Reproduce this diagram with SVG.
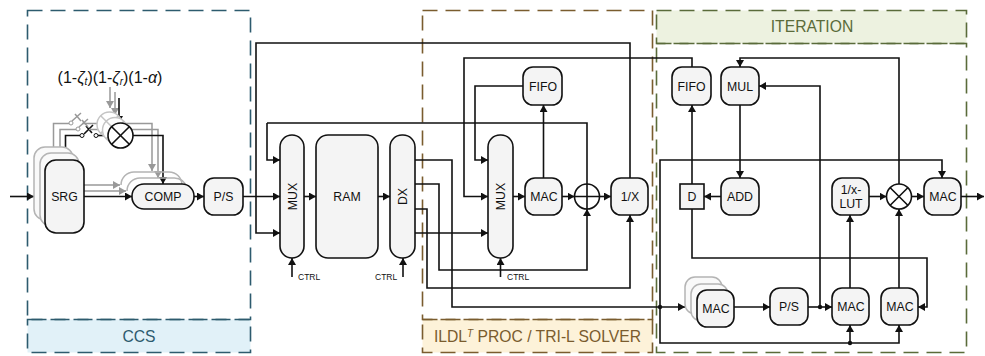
<svg xmlns="http://www.w3.org/2000/svg" width="985" height="356" viewBox="0 0 985 356">
<style>
text{font-family:"Liberation Sans",Arial,sans-serif;fill:#111;text-anchor:middle}
.n{fill:#f4f4f4;stroke:#111;stroke-width:1.6}
.g{fill:#f9f9f9;stroke:#b4b4b4;stroke-width:1.5}
.o{fill:none;stroke:#b4b4b4;stroke-width:1.5}
.t{font-size:12.3px}
.c{font-size:8.5px;text-anchor:start}
.w{fill:none;stroke:#111;stroke-width:1.6}
.a{fill:none;stroke:#111;stroke-width:1.6;marker-end:url(#ah)}
.y{fill:none;stroke:#999;stroke-width:1.5}
.ya{fill:none;stroke:#999;stroke-width:1.5;marker-end:url(#gh)}
.x{fill:#fff;stroke:#111;stroke-width:1.6}
.xg{fill:#fff;stroke:#c4c4c4;stroke-width:1.5}
.lg{fill:none;stroke:#c4c4c4;stroke-width:1.5}
.p{fill:none;stroke-width:1.6;stroke-dasharray:15 8}
.l{stroke-width:1.6;stroke-dasharray:15 8}
.h{font-size:15.700px}
</style>
<defs>
<marker id="ah" markerUnits="userSpaceOnUse" markerWidth="8" markerHeight="8" refX="7" refY="4" orient="auto"><path d="M0,0L7,4L0,8Z" fill="#111"/></marker>
<marker id="gh" markerUnits="userSpaceOnUse" markerWidth="8" markerHeight="8" refX="7" refY="4" orient="auto"><path d="M0,0L7,4L0,8Z" fill="#999"/></marker>
</defs>
<g id="panel-ccs">
<rect class="l" x="27.500" y="319.500" width="223" height="33" fill="#e1f1f8" stroke="#2d5b6e"/>
<rect class="p" x="27.500" y="10.500" width="223" height="309" stroke="#2d5b6e"/>
<text class="h" x="139" y="341.500" style="fill:#2d5b6e">CCS</text>
</g>
<g id="panel-ildl">
<rect class="l" x="422.500" y="319.500" width="230" height="33" fill="#fdf2d9" stroke="#7a5c2e"/>
<rect class="p" x="422.500" y="10.500" width="230" height="309" stroke="#7a5c2e"/>
<text class="h" x="537.500" y="341.500" style="fill:#7a5c2e">ILDL<tspan dy="-5" font-size="10" font-style="italic">T</tspan><tspan dy="5"> PROC / TRI-L SOLVER</tspan></text>
</g>
<g id="panel-iter">
<rect class="l" x="656.500" y="10.500" width="310" height="33" fill="#edf2e0" stroke="#5a6b3a"/>
<rect class="p" x="656.500" y="43.500" width="310" height="309" stroke="#5a6b3a"/>
<text class="h" x="812" y="31.500" style="fill:#5a6b3a">ITERATION</text>
</g>
<g id="connectors">
<path class="a" d="M10,196.500H34"/>
<path class="ya" d="M84,185H120"/>
<path class="ya" d="M84,191H126"/>
<path class="a" d="M84,196.500H132"/>
<path class="y" d="M53.500,147V123.500H69"/>
<path class="y" d="M60,153V129.500H76"/>
<path class="w" d="M65.500,160V135.500H80"/>
<path class="w" d="M84,134L93,125M86,126L92,133"/>
<path class="y" d="M72,121L81,113M75,114L81,121"/>
<path class="y" d="M79,127L88,119M82,120L88,127"/>
<path class="y" d="M82,123.500H97M89,129.500H102"/>
<path class="w" d="M98,135.500H108"/>
<path class="ya" d="M110,87V108"/>
<path class="ya" d="M115,92V115"/>
<path class="a" d="M119,98V123"/>
<path class="ya" d="M124,123.500H152V171"/>
<path class="ya" d="M127,129.500H158V178"/>
<path class="a" d="M133,135.500H163V184"/>
<path class="a" d="M194,196.500H204"/>
<path class="a" d="M243,196.500H280"/>
<path class="w" d="M256,196.500V43H630V178"/>
<path class="a" d="M256,196.500V233H280"/>
<path class="w" d="M587,184V123H267"/>
<path class="a" d="M267,123V160H280"/>
<path class="a" d="M304,196.500H316"/>
<path class="a" d="M378,196.500H390"/>
<path class="a" d="M415,160H452V307H685"/>
<path class="a" d="M415,184H439V270H587V209"/>
<path class="a" d="M415,209H427V288H630V215"/>
<path class="a" d="M415,233H488"/>
<path class="a" d="M692,67V58H464V196.500H488"/>
<path class="a" d="M523,86H475V160H488"/>
<path class="a" d="M513,196.500H525"/>
<path class="a" d="M543.500,178V105"/>
<path class="a" d="M562,196.500H574.500"/>
<path class="a" d="M599.500,196.500H611"/>
<path class="a" d="M660,307V160H942V178"/>
<path class="a" d="M660,307V343H899V325"/>
<path class="a" d="M850,343V325"/>
<path class="a" d="M692,184V105"/>
<path class="a" d="M899,184V58H740V67"/>
<path class="a" d="M820,307V86H759"/>
<path class="a" d="M740,105V178"/>
<path class="a" d="M721,196.500H704"/>
<path class="a" d="M692,209V258H927V307H918"/>
<path class="a" d="M734,307H770"/>
<path class="a" d="M808,307H832"/>
<path class="a" d="M850,288V215"/>
<path class="a" d="M899,288V209"/>
<path class="a" d="M869,196.500H886.500"/>
<path class="a" d="M911.500,196.500H924"/>
<path class="a" d="M961,196.500H984"/>
<path class="a" d="M292,277V258"/>
<path class="a" d="M403,277V258"/>
<path class="a" d="M500.500,277V258"/>
<circle cx="660" cy="307" r="2.200" fill="#111"/>
<circle cx="820" cy="307" r="2.200" fill="#111"/>
<circle cx="850" cy="343" r="2.200" fill="#111"/>
<circle cx="71" cy="123" r="2" fill="#fff" stroke="#999"/>
<circle cx="78" cy="129" r="2" fill="#fff" stroke="#999"/>
<circle cx="82" cy="135.500" r="2" fill="#fff" stroke="#111"/>
<circle cx="96" cy="135.500" r="2" fill="#fff" stroke="#111"/>
</g>
<g id="srg">
<rect class="g" x="34" y="147" width="39" height="73" rx="11"/>
<rect class="g" x="40" y="153" width="39" height="73" rx="11"/>
<rect class="n" x="45" y="160" width="39" height="73" rx="11"/>
<text class="t" x="64.500" y="201">SRG</text>
</g>
<g id="mult1">
<circle class="xg" cx="109.500" cy="124.500" r="12.500"/>
<path class="lg" d="M100.700,115.700L118.300,133.300M118.300,115.700L100.700,133.300"/>
<circle class="xg" cx="115" cy="130" r="12.500"/>
<path class="lg" d="M106.200,121.200L123.800,138.800M123.800,121.200L106.200,138.800"/>
<circle class="x" cx="120.500" cy="135.500" r="12.500"/>
<path class="w" d="M111.700,126.700L129.300,144.300M129.300,126.700L111.700,144.300"/>
</g>
<g id="comp">
<path class="o" d="M121,185A13,13 0 0 1 134,172H169A13,13 0 0 1 182,185"/>
<path class="o" d="M127,191A13,13 0 0 1 140,178H174A13,13 0 0 1 187,188"/>
<rect class="n" x="132" y="184" width="62" height="25" rx="12"/>
<text class="t" x="163" y="201">COMP</text>
</g>
<g id="ps1"><rect class="n" x="204" y="178" width="39" height="37" rx="10"/><text class="t" x="223.500" y="201">P/S</text></g>
<g id="mux1"><rect class="n" x="280" y="135" width="24" height="123" rx="12"/><text class="t" transform="translate(296.500 196.500) rotate(-90)">MUX</text></g>
<g id="ram"><rect class="n" x="316" y="135" width="62" height="123" rx="12"/><text class="t" x="347" y="201">RAM</text></g>
<g id="dx"><rect class="n" x="390" y="135" width="25" height="123" rx="12"/><text class="t" transform="translate(407 196.500) rotate(-90)">DX</text></g>
<g id="ctrl1"><text class="c" x="298" y="280">CTRL</text></g>
<g id="ctrl2"><text class="c" x="375" y="280">CTRL</text></g>
<g id="ctrl3"><text class="c" x="507" y="280">CTRL</text></g>
<g id="mux2"><rect class="n" x="488" y="135" width="25" height="123" rx="12"/><text class="t" transform="translate(505 196.500) rotate(-90)">MUX</text></g>
<g id="fifo1"><rect class="n" x="523" y="67" width="39" height="38" rx="10"/><text class="t" x="543" y="90.500">FIFO</text></g>
<g id="mac1"><rect class="n" x="525" y="178" width="37" height="37" rx="10"/><text class="t" x="544" y="201">MAC</text></g>
<g id="adder"><circle class="x" cx="587" cy="196.500" r="12.500"/><path class="w" d="M574.500,196.500H599.500M587,184V209"/></g>
<g id="inv"><rect class="n" x="611" y="178" width="37" height="37" rx="10"/><text class="t" x="630" y="201">1/X</text></g>
<g id="fifo2"><rect class="n" x="672" y="67" width="39" height="38" rx="10"/><text class="t" x="691.500" y="90.500">FIFO</text></g>
<g id="mul"><rect class="n" x="721" y="67" width="38" height="38" rx="10"/><text class="t" x="740" y="90.500">MUL</text></g>
<g id="add"><rect class="n" x="721" y="178" width="38" height="37" rx="10"/><text class="t" x="740" y="201">ADD</text></g>
<g id="d"><rect class="n" x="680" y="184" width="24" height="25"/><text class="t" x="692" y="201">D</text></g>
<g id="lut"><rect class="n" x="832" y="178" width="37" height="37" rx="10"/><text class="t" x="851" y="194">1/x-</text><text class="t" x="851" y="208">LUT</text></g>
<g id="mult2"><circle class="x" cx="899" cy="196.500" r="12.500"/><path class="w" d="M890.200,187.700L907.800,205.300M907.800,187.700L890.200,205.300"/></g>
<g id="mac2"><rect class="n" x="924" y="178" width="37" height="37" rx="10"/><text class="t" x="943" y="201">MAC</text></g>
<g id="mac3">
<rect class="g" x="685" y="277" width="37" height="37" rx="10"/>
<rect class="g" x="691" y="284" width="37" height="37" rx="10"/>
<rect class="n" x="697" y="290" width="37" height="37" rx="10"/>
<text class="t" x="716" y="313">MAC</text>
</g>
<g id="ps2"><rect class="n" x="770" y="288" width="38" height="37" rx="10"/><text class="t" x="789" y="311">P/S</text></g>
<g id="mac4"><rect class="n" x="832" y="288" width="37" height="37" rx="10"/><text class="t" x="851" y="311">MAC</text></g>
<g id="mac5"><rect class="n" x="881" y="288" width="37" height="37" rx="10"/><text class="t" x="900" y="311">MAC</text></g>
<g id="formula"><text x="110" y="83" style="font-size:16px">(1-<tspan font-style="italic">ζ</tspan><tspan font-size="10" font-style="italic" dy="2">t</tspan><tspan dy="-2">)(1-</tspan><tspan font-style="italic">ζ</tspan><tspan font-size="10" font-style="italic" dy="2">r</tspan><tspan dy="-2">)(1-</tspan><tspan font-style="italic">α</tspan>)</text></g>
</svg>
